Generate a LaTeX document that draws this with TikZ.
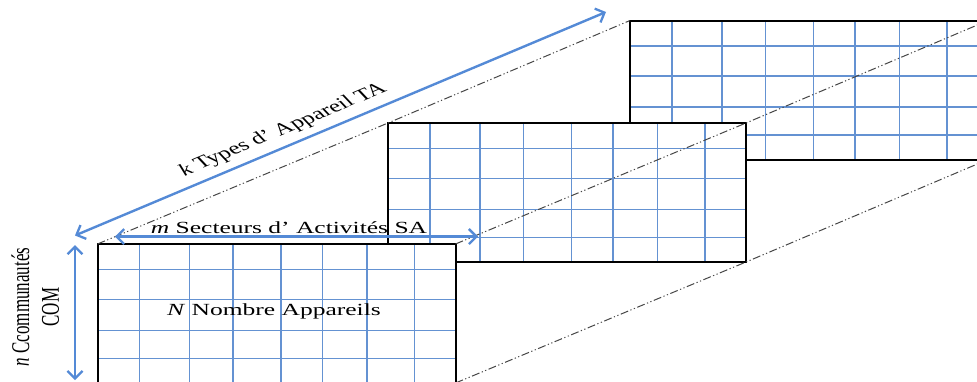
\documentclass[tikz,border=0pt]{standalone}
\usepackage{fontspec}
\setmainfont{Liberation Serif}
\usetikzlibrary{arrows.meta}
\definecolor{gridblue}{RGB}{100,146,210}
\definecolor{arrowblue}{RGB}{84,138,214}
\definecolor{dashgray}{RGB}{70,70,70}
\tikzset{
  sheet/.style={fill=white, inner sep=0pt, outer sep=0pt, minimum width=358pt, minimum height=139pt, anchor=north west},
  gridline/.style={gridblue, line width=1.2pt},
  border/.style={black, line width=2pt},
  guide/.style={dashgray, line width=1pt, dash pattern=on 8pt off 2.5pt on 1.2pt off 2.5pt on 1.2pt off 2.5pt},
  dimarrow/.style={arrowblue, line width=2.4pt, {Straight Barb[length=7.5pt,width=15pt,line width=2.3pt]}-{Straight Barb[length=7.5pt,width=15pt,line width=2.3pt]}},
  lbl/.style={inner sep=0pt, font=\fontsize{17}{20}\selectfont}
}
\newcommand{\gridin}[1]{%
  \begin{scope}[shift={(#1.north west)}]
    \foreach \c in {42,92,135.5,183.5,225,269.5,317} \draw[gridline] (\c,0) -- (\c,139);
    \foreach \r in {25.5,55.5,86.5,114.5} \draw[gridline] (0,\r) -- (358,\r);
  \end{scope}
  \draw[border] (#1.north west) rectangle (#1.south east);
}
\begin{document}
\begin{tikzpicture}[x=1pt,y=-1pt]
\useasboundingbox (0,0) rectangle (977,381);
\clip (0,0) rectangle (977,381);
% back sheet
\node[sheet] (back) at (630,20.5) {};
\gridin{back}
% middle sheet
\node[sheet] (middle) at (388,123) {};
\gridin{middle}
% front sheet
\node[sheet] (front) at (97.5,244) {};
\gridin{front}
% guide lines
\draw[guide] (front.north west) -- (middle.north west) -- (back.north west);
\draw[guide] (front.north east) -- (middle.north east) -- (back.north east);
\draw[guide] (front.south east) -- (middle.south east) -- (back.south east);
% dimension arrows
\coordinate (k1) at (75,235.5);
\coordinate (k2) at (606,12);
\coordinate (m1) at (115,236.5);
\coordinate (m2) at (478,236.5);
\coordinate (n1) at (75,245);
\coordinate (n2) at (75,380);
\draw[dimarrow] (k1) -- (k2);
\draw[dimarrow] (m1) -- (m2);
\draw[dimarrow] (n1) -- (n2);
% labels
\node[lbl] (klabel) at (283,130) {\scalebox{1.5}[1]{\rotatebox{32.3}{\textit{k} Types d’ Appareil TA}}};
\node[lbl, anchor=base] (mlabel) at (289,233) {\scalebox{1.5}[1]{\textit{m} Secteurs d’ Activités SA}};
\node[lbl] (Nlabel) at (274,311) {\scalebox{1.5}[1]{\textit{N} Nombre Appareils}};
\node[lbl] (nlabel) at (38,307) {\scalebox{1.5}[1]{\rotatebox{90}{\begin{tabular}{@{}c@{}}\textit{n} Ccommunautés\\COM\end{tabular}}}};
\end{tikzpicture}
\end{document}
